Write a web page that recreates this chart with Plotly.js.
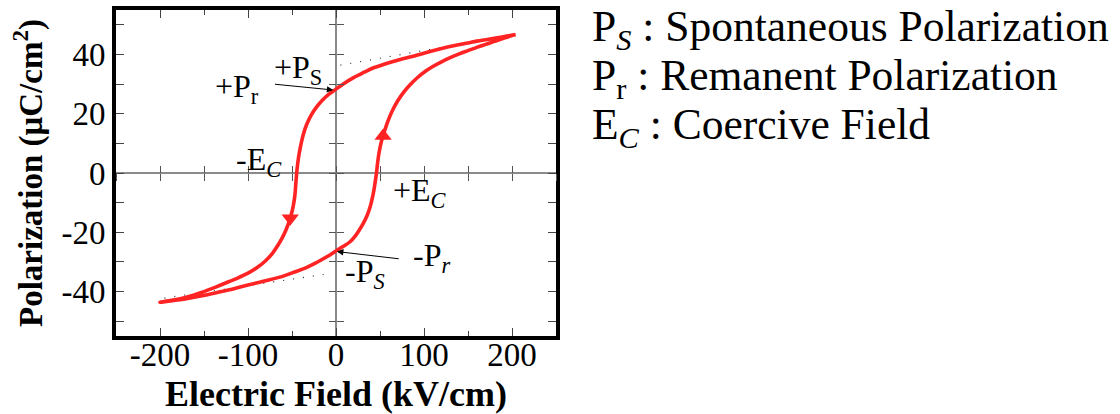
<!DOCTYPE html>
<html>
<head>
<meta charset="utf-8">
<script src="https://cdn.plot.ly/plotly-3.0.1.min.js"></script>
<style>html,body{margin:0;padding:0;background:#fff;}#chart{width:1120px;height:414px;}</style>
</head>
<body>
<div id="chart"></div>
<script>
// Hysteresis loop: lower branch (field increasing), then upper branch (field decreasing)
const lowerE = [-200, -170, -155, -135, -117, -100, -79, -60, -49, -35, -22, -10, 0, 8, 16, 22, 27, 31, 35, 39, 42, 44.3, 46, 47.3, 49, 51.5, 55, 59, 64, 70, 77, 85, 93, 102, 111, 121, 131, 140, 150, 160, 170, 180, 192, 204];
const lowerP = [-43.6, -42.4, -41.6, -40.3, -39.1, -37.8, -36.3, -34.8, -33.6, -32.1, -30.2, -28.2, -26.3, -24.8, -23.2, -21.2, -19.0, -17.0, -14.6, -11.2, -7.5, -3.5, 0, 3.5, 7, 10.5, 14, 17.5, 21, 24.3, 27.3, 30, 32.3, 34.4, 36.1, 37.7, 39.1, 40.2, 41.3, 42.4, 43.4, 44.4, 45.6, 46.7];
const upperE = [204, 190, 175, 160, 150, 135, 120, 111, 95, 85, 73, 60, 50, 42.7, 32, 20, 10, 0, -8, -15, -22, -28, -33, -37, -40, -42.5, -44.3, -45.5, -46.7, -48.5, -51, -54, -57, -61, -66, -72, -80, -90, -100, -110, -122, -136, -152, -170, -185, -200];
const upperP = [46.7, 46.0, 45.2, 44.5, 43.9, 43.0, 42.0, 41.3, 40.0, 39.2, 38.3, 37.2, 36.2, 35.5, 34.0, 32.2, 30.4, 28.3, 26.6, 24.7, 22.3, 19.6, 16.6, 13.2, 9.4, 5.4, 1.2, -3.0, -7.5, -11.0, -14.2, -17.0, -19.3, -21.8, -24.4, -27.0, -29.6, -32.0, -33.8, -35.2, -36.7, -38.4, -40.2, -41.9, -42.9, -43.6];

// Saturation extrapolation (dotted) lines
const psUpperE = [5, 200];
const psUpperP = [36.4, 46.5];
const psLowerE = [-195, -4];
const psLowerP = [-42.2, -33.8];

// Direction arrows on the loop
const dirUpE = [53.5];
const dirUpP = [12.5];
const dirDownE = [-52];
const dirDownP = [-15.3];

// Axis ticks
const xTickVals = [-200, -100, 0, 100, 200];
const xTickText = ['-200', '-100', '0', '100', '200'];
const yTickVals = [-40, -20, 0, 20, 40];
const yTickText = ['-40', '-20', '0', '20', '40'];
const xRange = [-250, 250];
const yRange = [-55, 55];

const loopE = lowerE.concat(upperE);
const loopP = lowerP.concat(upperP);

const RED = '#ff2323';
const SERIF = 'Liberation Serif, Times New Roman, serif';

const traces = [
  {x: psUpperE, y: psUpperP, mode: 'lines', line: {color: '#333', width: 1.2, dash: '1px,9px'}, hoverinfo: 'skip', showlegend: false},
  {x: psLowerE, y: psLowerP, mode: 'lines', line: {color: '#333', width: 1.2, dash: '1px,9px'}, hoverinfo: 'skip', showlegend: false},
  {x: loopE, y: loopP, mode: 'lines', line: {color: RED, width: 3.6, shape: 'spline', smoothing: 1}, hoverinfo: 'skip', showlegend: false},
  {x: dirUpE, y: dirUpP, mode: 'markers', marker: {symbol: 'triangle-up', size: 15, color: RED}, hoverinfo: 'skip', showlegend: false},
  {x: dirDownE, y: dirDownP, mode: 'markers', marker: {symbol: 'triangle-down', size: 15, color: RED}, hoverinfo: 'skip', showlegend: false},
  // carriers for the centre cross-tick axes
  {x: [], y: [], xaxis: 'x2', yaxis: 'y', hoverinfo: 'skip', showlegend: false},
  {x: [], y: [], xaxis: 'x3', yaxis: 'y', hoverinfo: 'skip', showlegend: false},
  {x: [], y: [], xaxis: 'x', yaxis: 'y2', hoverinfo: 'skip', showlegend: false},
  {x: [], y: [], xaxis: 'x', yaxis: 'y3', hoverinfo: 'skip', showlegend: false}
];

const xZeroPos = (0 - yRange[0]) / (yRange[1] - yRange[0]);
const yZeroPos = (0 - xRange[0]) / (xRange[1] - xRange[0]);

function centreX(dir) {
  return {overlaying: 'x', anchor: 'free', position: xZeroPos, range: xRange, side: 'bottom',
    ticks: dir, ticklen: 7, tickwidth: 1, tickcolor: '#555', tick0: 0, dtick: 50,
    showticklabels: false, showline: false, showgrid: false, zeroline: false, fixedrange: true};
}
function centreY(dir) {
  return {overlaying: 'y', anchor: 'free', position: yZeroPos, range: yRange, side: 'left',
    ticks: dir, ticklen: 7, tickwidth: 1, tickcolor: '#555', tick0: 0, dtick: 10,
    showticklabels: false, showline: false, showgrid: false, zeroline: false, fixedrange: true};
}

const annFont = {family: SERIF, size: 32, color: '#000'};
const rightFont = {family: SERIF, size: 43.5, color: '#000'};

const layout = {
  width: 1120, height: 414,
  margin: {l: 116, r: 564, t: 10, b: 78},
  paper_bgcolor: '#fff', plot_bgcolor: '#fff',
  showlegend: false,
  xaxis: {
    range: xRange, tickvals: xTickVals, ticktext: xTickText,
    ticks: 'inside', ticklen: 8, tickwidth: 1, tickcolor: '#444',
    minor: {tickvals: [-150, -50, 50, 150], ticks: 'inside', ticklen: 5, tickwidth: 1, tickcolor: '#444'},
    showline: true, linewidth: 4, linecolor: '#000', mirror: 'ticks',
    zeroline: true, zerolinecolor: '#8a8a8a', zerolinewidth: 1.5, showgrid: false,
    tickfont: {family: SERIF, size: 33, color: '#000'},
    ticklabelstandoff: -14,
    title: {text: '<b>Electric Field (kV/cm)</b>', font: {family: SERIF, size: 36, color: '#000'}, standoff: 18},
    fixedrange: true
  },
  yaxis: {
    range: yRange, tickvals: yTickVals, ticktext: yTickText,
    ticks: 'inside', ticklen: 8, tickwidth: 1, tickcolor: '#444',
    minor: {tickvals: [-50, -30, -10, 10, 30, 50], ticks: 'inside', ticklen: 8, tickwidth: 1, tickcolor: '#444'},
    showline: true, linewidth: 4, linecolor: '#000', mirror: 'ticks',
    zeroline: true, zerolinecolor: '#8a8a8a', zerolinewidth: 1.5, showgrid: false,
    tickfont: {family: SERIF, size: 33, color: '#000'},
    title: {text: '<b>Polarization (μC/cm<sup>2</sup>)</b>', font: {family: SERIF, size: 33, color: '#000'}, standoff: 10},
    fixedrange: true
  },
  xaxis2: centreX('inside'),
  xaxis3: centreX('outside'),
  yaxis2: centreY('inside'),
  yaxis3: centreY('outside'),
  annotations: [
    {x: -43, y: 35, xref: 'x', yref: 'y', text: '+P<sub>S</sub>', showarrow: false, font: annFont},
    {x: -113, y: 28.5, xref: 'x', yref: 'y', text: '+P<sub>r</sub>', showarrow: false, font: annFont},
    {x: -88, y: 4, xref: 'x', yref: 'y', text: '-E<sub><i>C</i></sub>', showarrow: false, font: annFont},
    {x: 95, y: -6.5, xref: 'x', yref: 'y', text: '+E<sub><i>C</i></sub>', showarrow: false, font: annFont},
    {x: 108, y: -28.5, xref: 'x', yref: 'y', text: '-P<sub><i>r</i></sub>', showarrow: false, font: annFont},
    {x: 33, y: -34, xref: 'x', yref: 'y', text: '-P<sub><i>S</i></sub>', showarrow: false, font: annFont},
    {x: -3, y: 28, ax: -71, ay: 30, xref: 'x', yref: 'y', axref: 'x', ayref: 'y', text: '', showarrow: true,
      arrowhead: 2, arrowsize: 1.3, arrowwidth: 1, arrowcolor: '#000', standoff: 0},
    {x: 1, y: -26.5, ax: 73, ay: -29, xref: 'x', yref: 'y', axref: 'x', ayref: 'y', text: '', showarrow: true,
      arrowhead: 2, arrowsize: 1.3, arrowwidth: 1, arrowcolor: '#000', standoff: 0},
    {x: 1.077, y: 0.94, xref: 'paper', yref: 'paper', xanchor: 'left', yanchor: 'middle', showarrow: false,
      text: 'P<sub><i>S</i></sub> : Spontaneous Polarization', font: rightFont},
    {x: 1.077, y: 0.79, xref: 'paper', yref: 'paper', xanchor: 'left', yanchor: 'middle', showarrow: false,
      text: 'P<sub>r</sub> : Remanent Polarization', font: rightFont},
    {x: 1.077, y: 0.64, xref: 'paper', yref: 'paper', xanchor: 'left', yanchor: 'middle', showarrow: false,
      text: 'E<sub><i>C</i></sub> : Coercive Field', font: rightFont}
  ]
};

Plotly.newPlot('chart', traces, layout, {displayModeBar: false, staticPlot: true});
</script>
</body>
</html>
